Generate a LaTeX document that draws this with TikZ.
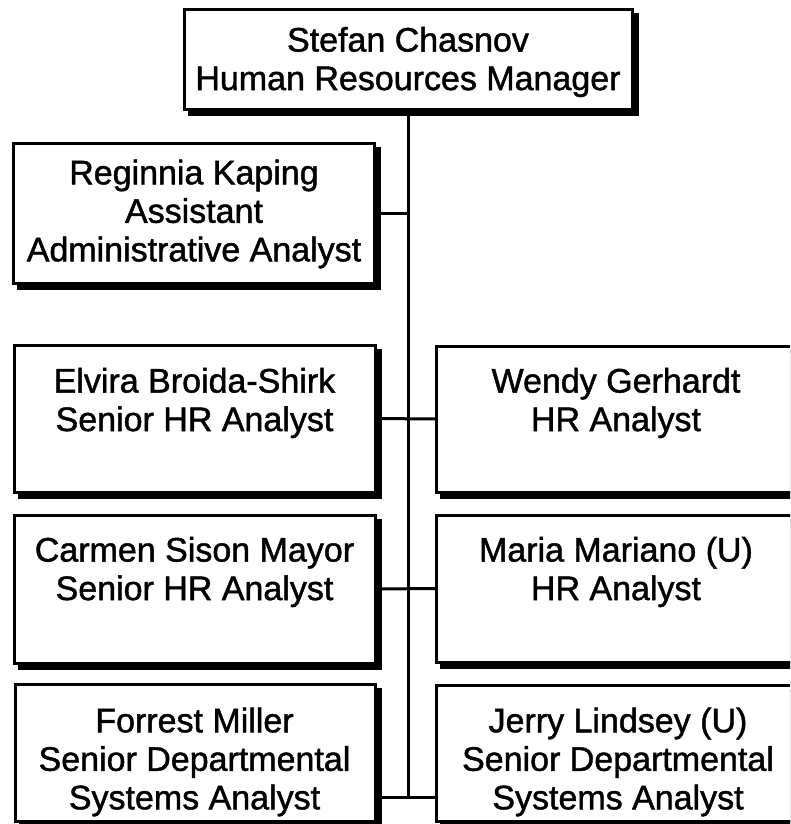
\documentclass[tikz,border=0pt]{standalone}
\usepackage{fontspec}
\setmainfont{Liberation Sans}
\newfontfamily\orgfont[FakeBold=1.3]{Liberation Sans}
\usetikzlibrary{shadows}
\begin{document}
\begin{tikzpicture}[x=1pt,y=-1pt,
  orgbox/.style={draw=black, line width=3pt, fill=white, outer sep=0pt, inner sep=0pt,
    general shadow={fill=black, draw=black, shadow xshift=5pt, shadow yshift=-5pt}},
  orgtext/.style={align=center, inner sep=0pt, font=\orgfont\fontsize{34}{38.5}\selectfont},
  link/.style={draw=black, line width=3pt}]
\useasboundingbox (0,0) rectangle (790,824);
\clip (0,0) rectangle (790,824);
\fill[white] (0,0) rectangle (790,824);
% boxes
\node[orgbox, minimum width=448pt, minimum height=100pt] (mgr) at (408,60) {};
\node[orgbox, minimum width=361pt, minimum height=140pt] (kap) at (193.5,213) {};
\node[orgbox, minimum width=361pt, minimum height=147pt] (elv) at (194.5,418.5) {};
\node[orgbox, minimum width=360pt, minimum height=146pt] (wen) at (616,419) {};
\node[orgbox, minimum width=361pt, minimum height=148pt] (car) at (194.5,589) {};
\node[orgbox, minimum width=360pt, minimum height=147pt] (mar) at (616,588.5) {};
\node[orgbox, minimum width=360pt, minimum height=137pt] (for) at (195,752.5) {};
\node[orgbox, minimum width=360pt, minimum height=136pt] (jer) at (616,753) {};
% connectors
\coordinate (trunkend) at (408,797);
\draw[link] (mgr.south) -- (trunkend);
\draw[link] (kap.east) -- (kap.east -| mgr.south);
\draw[link] (elv.east) -- (wen.west);
\draw[link] (car.east) -- (mar.west);
\draw[link] (for.east |- trunkend) -- (jer.west |- trunkend);
% texts
\node[orgtext] (tmgr) at (408,62) {Stefan Chasnov\\Human Resources Manager};
\node[orgtext] (tkap) at (194,214) {Reginnia Kaping\\Assistant\\Administrative Analyst};
\node[orgtext] (telv) at (194.5,403) {Elvira Broida-Shirk\\Senior HR Analyst};
\node[orgtext] (twen) at (616,403) {Wendy Gerhardt\\HR Analyst};
\node[orgtext] (tcar) at (194.5,572) {Carmen Sison Mayor\\Senior HR Analyst};
\node[orgtext] (tmar) at (616,572) {Maria Mariano (U)\\HR Analyst};
\node[orgtext] (tfor) at (194.5,762) {Forrest Miller\\Senior Departmental\\Systems Analyst};
\node[orgtext] (tjer) at (618,762) {Jerry Lindsey (U)\\Senior Departmental\\Systems Analyst};
\end{tikzpicture}
\end{document}
